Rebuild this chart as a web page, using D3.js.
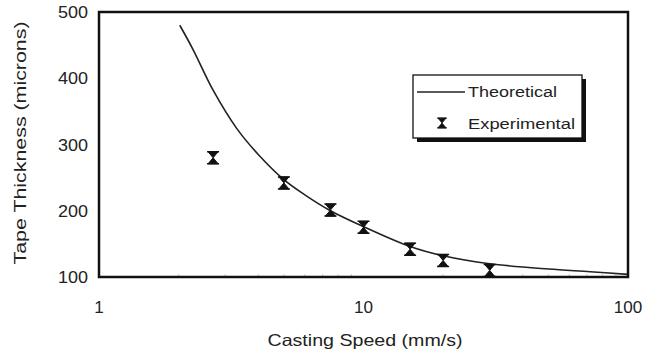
<!DOCTYPE html>
<html>
<head>
<meta charset="utf-8">
<script src="https://cdn.jsdelivr.net/npm/d3@7"></script>
<style>
  body { margin: 0; background: #fff; }
  text { font-family: "Liberation Sans", Arial, sans-serif; fill: #222; }
</style>
</head>
<body>
<svg id="chart" width="656" height="356"></svg>
<script>
// theoretical curve
var theoSpeed = [2.02, 2.27, 2.7, 3.32, 4.0, 5.0, 6.0, 7.5, 10, 15, 20, 30, 50, 72, 100];
var theoThick = [480, 443, 382, 324, 285, 247, 224, 200, 176, 146, 132, 120, 112, 108, 104];

// experimental points
var expSpeed = [2.7, 5, 7.5, 10, 15, 20, 30];
var expThick = [280, 242, 201, 175, 142, 125, 110];

var xTicks = [1, 10, 100];
var yTicks = [100, 200, 300, 400, 500];
var legendLabels = ["Theoretical", "Experimental"];

var svg = d3.select("#chart");
var pLeft = 99, pRight = 628, pTop = 12, pBottom = 277;

var x = d3.scaleLog().domain([1, 100]).range([pLeft, pRight]);
var y = d3.scaleLinear().domain([100, 500]).range([pBottom, pTop]);

// faint minor ticks on x axis
var minor = [];
[1, 10].forEach(function(d){ for (var i = 2; i <= 9; i++) minor.push(d * i); });
svg.append("g").selectAll("line").data(minor).enter().append("line")
  .attr("x1", function(d){ return x(d); }).attr("x2", function(d){ return x(d); })
  .attr("y1", pBottom - 3).attr("y2", pBottom)
  .attr("stroke", "#ccc").attr("stroke-width", 1);

// curve
var line = d3.line()
  .x(function(d, i){ return x(theoSpeed[i]); })
  .y(function(d, i){ return y(theoThick[i]); })
  .curve(d3.curveCatmullRom.alpha(0.5));
svg.append("path").datum(theoSpeed)
  .attr("d", line)
  .attr("fill", "none").attr("stroke", "#222").attr("stroke-width", 1.6);

// hourglass marker with caps
function marker(g){
  g.append("path")
    .attr("d", "M-5,-6 L5,-6 L0,0 L5,6 L-5,6 L0,0 Z")
    .attr("fill", "#111").attr("stroke", "#111").attr("stroke-width", 1);
  g.append("path")
    .attr("d", "M-6,-6 L6,-6 M-6,6 L6,6")
    .attr("stroke", "#111").attr("stroke-width", 1.5);
}

svg.append("g").selectAll("g").data(expSpeed).enter().append("g")
  .attr("transform", function(d, i){ return "translate(" + x(d) + "," + y(expThick[i]) + ")"; })
  .each(function(){ marker(d3.select(this)); });

// frame
svg.append("rect")
  .attr("x", pLeft).attr("y", pTop)
  .attr("width", pRight - pLeft).attr("height", pBottom - pTop)
  .attr("fill", "none").attr("stroke", "#111").attr("stroke-width", 2.5);

// tick labels (text in the source is a bit stretched sideways)
svg.append("g").selectAll("text").data(xTicks).enter().append("text")
  .attr("x", function(d){ return x(d); }).attr("y", pBottom + 36)
  .attr("text-anchor", "middle").attr("font-size", 16)
  .attr("textLength", function(d){ return String(d).length * 9.5; })
  .attr("lengthAdjust", "spacingAndGlyphs")
  .text(function(d){ return d; });

svg.append("g").selectAll("text").data(yTicks).enter().append("text")
  .attr("x", pLeft - 11).attr("y", function(d){ return y(d) + 6; })
  .attr("text-anchor", "end").attr("font-size", 16)
  .attr("textLength", 30)
  .attr("lengthAdjust", "spacingAndGlyphs")
  .text(function(d){ return d; });

// axis titles
svg.append("text")
  .attr("x", 365).attr("y", 346)
  .attr("text-anchor", "middle").attr("font-size", 16.5)
  .attr("textLength", 195).attr("lengthAdjust", "spacingAndGlyphs")
  .text("Casting Speed (mm/s)");

svg.append("text")
  .attr("transform", "translate(26,143) rotate(-90)")
  .attr("text-anchor", "middle").attr("font-size", 16.5)
  .attr("textLength", 243).attr("lengthAdjust", "spacingAndGlyphs")
  .text("Tape Thickness (microns)");

// legend
var lg = svg.append("g").attr("transform", "translate(413,75)");
lg.append("rect").attr("x", 4).attr("y", 4).attr("width", 169).attr("height", 63).attr("fill", "#111");
lg.append("rect").attr("x", 0).attr("y", 0).attr("width", 169).attr("height", 63)
  .attr("fill", "#fff").attr("stroke", "#111").attr("stroke-width", 1.3);
lg.append("line").attr("x1", 4).attr("x2", 52).attr("y1", 17).attr("y2", 17)
  .attr("stroke", "#222").attr("stroke-width", 1.6);
var lm = lg.append("g").attr("transform", "translate(29,48) scale(0.8)");
marker(lm);
var legendWidths = [89, 107];
lg.selectAll("text.lab").data(legendLabels).enter().append("text")
  .attr("class", "lab")
  .attr("x", 55).attr("y", function(d, i){ return 22 + i * 32; })
  .attr("font-size", 15.5)
  .attr("textLength", function(d, i){ return legendWidths[i]; })
  .attr("lengthAdjust", "spacingAndGlyphs")
  .text(function(d){ return d; });
</script>
</body>
</html>
